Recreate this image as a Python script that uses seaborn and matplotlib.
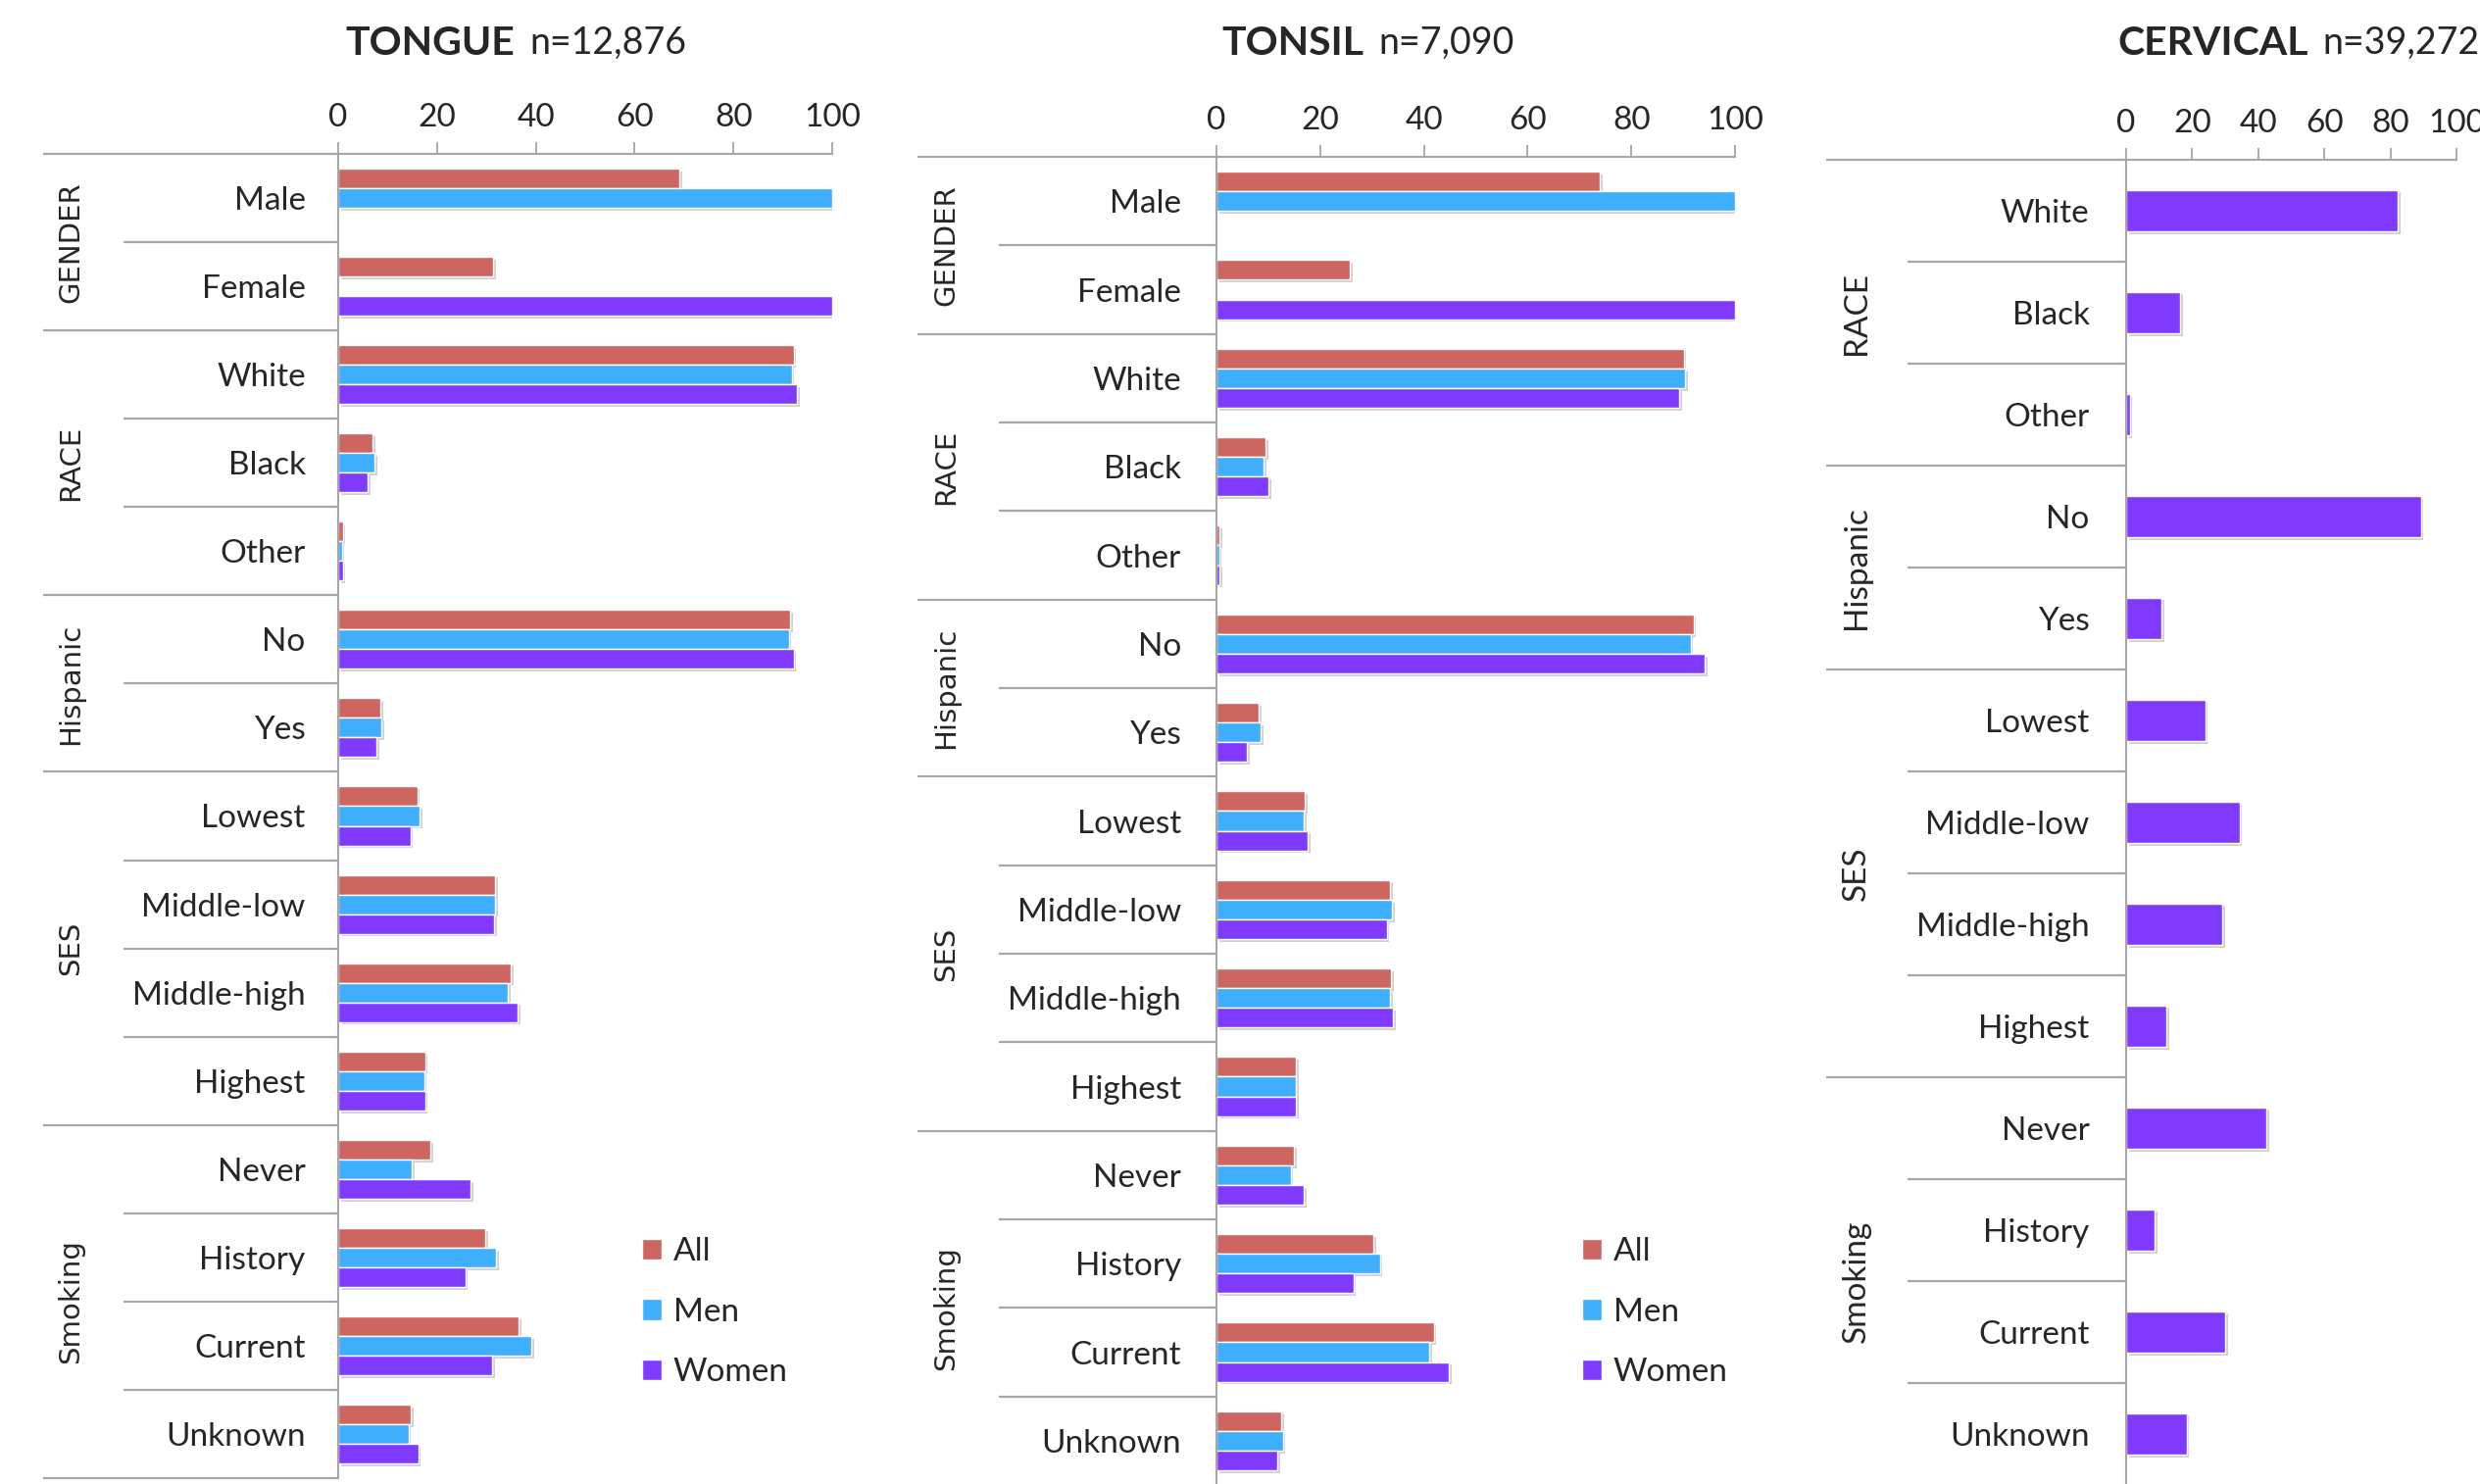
import numpy as np
import pandas as pd
import seaborn as sns
import matplotlib
matplotlib.use("Agg")
import matplotlib.pyplot as plt
from matplotlib import patheffects as pe
from matplotlib.patches import Patch

# DATA (percent of cases)
series = ["All", "Men", "Women"]
colors = {"All": "#CD6660", "Men": "#3FAEFC", "Women": "#7F3AFE"}

oral_cats = ["Male", "Female", "White", "Black", "Other", "No", "Yes",
             "Lowest", "Middle-low", "Middle-high", "Highest",
             "Never", "History", "Current", "Unknown"]
oral_groups = [("GENDER", 0, 1), ("RACE", 2, 4), ("Hispanic", 5, 6),
               ("SES", 7, 10), ("Smoking", 11, 14)]

tongue_all = [69, 31.3, 92.2, 7.0, 0.9, 91.5, 8.5, 16.0, 31.8, 34.9, 17.6, 18.7, 29.8, 36.6, 14.7]
tongue_men = [100, np.nan, 91.8, 7.4, 0.7, 91.2, 8.8, 16.5, 31.8, 34.3, 17.4, 14.9, 32.0, 39.1, 14.2]
tongue_women = [np.nan, 100, 92.9, 6.0, 0.9, 92.2, 7.7, 14.6, 31.5, 36.3, 17.6, 26.8, 25.7, 31.2, 16.2]

tonsil_all = [74.0, 25.8, 90.1, 9.4, 0.6, 92.0, 8.1, 17.1, 33.5, 33.7, 15.4, 15.0, 30.2, 41.9, 12.5]
tonsil_men = [100, np.nan, 90.4, 9.1, 0.5, 91.4, 8.6, 16.9, 33.8, 33.5, 15.4, 14.3, 31.5, 41.0, 12.8]
tonsil_women = [np.nan, 100, 89.2, 10.1, 0.6, 94.2, 5.9, 17.6, 32.8, 34.0, 15.4, 16.8, 26.4, 44.8, 11.7]

cerv_cats = ["White", "Black", "Other", "No", "Yes",
             "Lowest", "Middle-low", "Middle-high", "Highest",
             "Never", "History", "Current", "Unknown"]
cerv_groups = [("RACE", 0, 2), ("Hispanic", 3, 4), ("SES", 5, 8), ("Smoking", 9, 12)]
cerv_women = [82.2, 16.4, 1.1, 89.2, 10.7, 23.9, 34.3, 29.2, 12.2, 42.4, 8.6, 29.9, 18.3]

ticks = [0, 20, 40, 60, 80, 100]

# STYLE
sns.set_style("white")
plt.rcParams["font.family"] = ["Lato", "DejaVu Sans"]
GREY = "#A6A6A6"
W, H = 2530, 1514
fig = plt.figure(figsize=(W / 100, H / 100), dpi=100)


def long_table(cats, cols):
    rows = []
    for name, vals in cols.items():
        for c, v in zip(cats, vals):
            if not np.isnan(v):
                rows.append({"Category": c, "Series": name, "Value": v})
    return pd.DataFrame(rows)


def panel(box, cats, groups, df, hue_order, width, title, n_text,
          title_x, grp_x, cat_x, grp_label_x, label_pad, grp_font):
    x0, x1, y0, y1 = box
    ax = fig.add_axes([x0 / W, 1 - y1 / H, (x1 - x0) / W, (y1 - y0) / H])
    sns.barplot(data=df, y="Category", x="Value", hue="Series", order=cats,
                hue_order=hue_order, palette=colors, width=width, orient="h",
                errorbar=None, saturation=1, legend=False, ax=ax)
    for p in ax.patches:
        p.set_path_effects([pe.withSimplePatchShadow(offset=(2, -2), shadow_rgbFace="k", alpha=0.18)])
    n = len(cats)
    ax.set_xlim(0, 100)
    ax.set_ylim(n - 0.5, -0.5)
    ax.set_xlabel("")
    ax.set_ylabel("")
    for s in ["right", "bottom"]:
        ax.spines[s].set_visible(False)
    for s in ["top", "left"]:
        ax.spines[s].set_color(GREY)
        ax.spines[s].set_linewidth(1.5)
    ax.xaxis.tick_top()
    ax.set_xticks(ticks)
    ax.tick_params(axis="x", length=8.5, width=1.3, color=GREY, labelsize=24, pad=7.5)
    ax.set_yticks(range(n))
    ax.set_yticklabels(cats)
    ax.tick_params(axis="y", length=0, labelsize=24, pad=label_pad)

    # separator lines to the left of the axis
    tr = ax.get_yaxis_transform()
    fx = lambda px: (px - x0) / (x1 - x0)
    group_edges = set()
    for name, a, b in groups:
        group_edges.update([a - 0.5, b + 0.5])
        ax.text(fx(grp_label_x), (a + b) / 2, name, transform=tr, rotation=90,
                ha="center", va="center", fontsize=grp_font[0], family=grp_font[1])
    for e in np.arange(-0.5, n, 1.0):
        start = grp_x if e in group_edges else cat_x
        ax.plot([fx(start), 0], [e, e], transform=tr, color=GREY, lw=1.6,
                clip_on=False, solid_capstyle="butt")

    t = fig.text(title_x / W, 1 - 44 / H, title, fontsize=29.5, fontweight="bold",
                 ha="left", va="center")
    ax.annotate(n_text, xy=(1, 0.5), xycoords=t, xytext=(11, 0),
                textcoords="offset points", ha="left", va="center", fontsize=27)
    return ax


tongue_df = long_table(oral_cats, {"All": tongue_all, "Men": tongue_men, "Women": tongue_women})
tonsil_df = long_table(oral_cats, {"All": tonsil_all, "Men": tonsil_men, "Women": tonsil_women})
cerv_df = long_table(cerv_cats, {"Women": cerv_women})

ax1 = panel((345, 849, 157, 1508), oral_cats, oral_groups, tongue_df, series, 0.667,
            "TONGUE", "n=12,876", 352, 44, 126, 72, 24, (21, "DejaVu Sans"))
ax2 = panel((1241, 1770, 160, 1515), oral_cats, oral_groups, tonsil_df, series, 0.667,
            "TONSIL", "n=7,090", 1246, 936, 1019, 965, 26, (21, "DejaVu Sans"))
ax3 = panel((2169, 2506, 163, 1515), cerv_cats, cerv_groups, cerv_df, ["Women"], 0.41,
            "CERVICAL", "n=39,272", 2160, 1863, 1946, 1894, 27, (24, "Lato"))

handles = [Patch(facecolor=colors[s], label=s) for s in series]
for lx in (655, 1614):
    fig.legend(handles=handles, loc="upper left", bbox_to_anchor=(lx / W, 1 - 1262 / H),
               frameon=False, fontsize=24, handlelength=0.6, handleheight=0.6,
               handletextpad=0.35, labelspacing=0.95, borderpad=0, borderaxespad=0)

fig.savefig("out.png", dpi=100)
